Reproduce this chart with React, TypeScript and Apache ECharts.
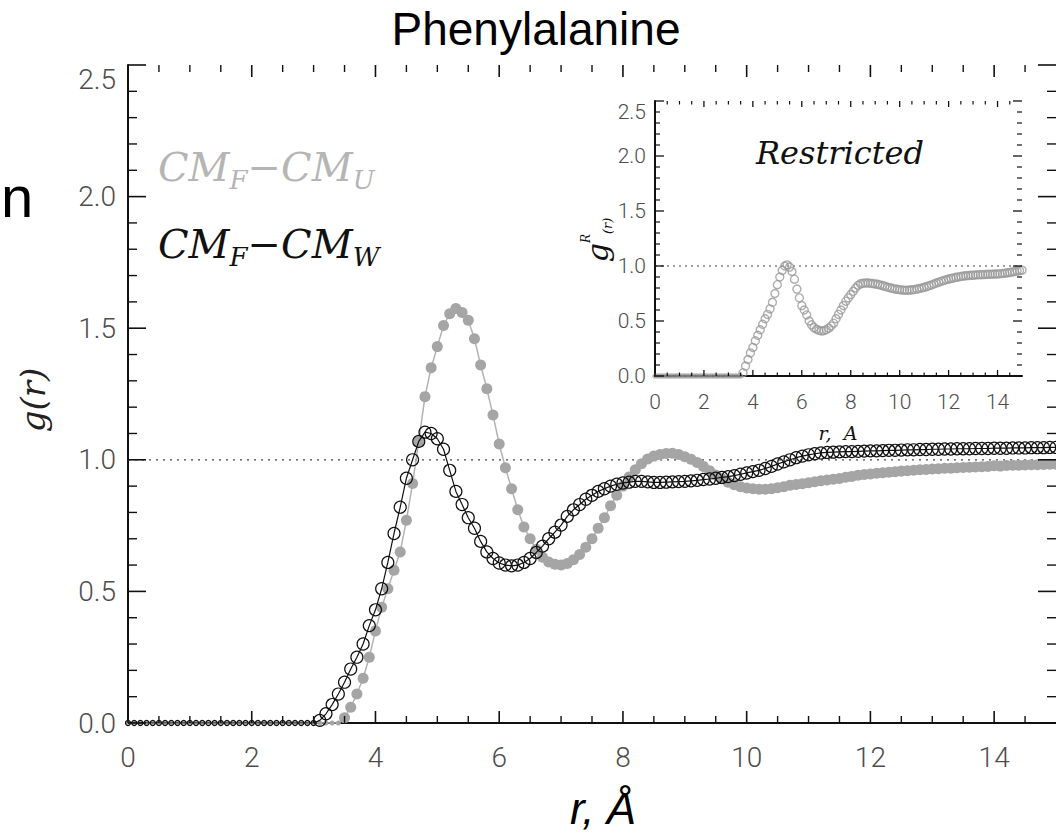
import React, { useEffect, useRef } from "react";
import * as echarts from "echarts";

// r grid: 0.0 .. 15.0 in steps of 0.1 (151 samples)
const R_START = 0;
const R_STEP = 0.1;

// g(r) for CM_F - CM_U (grey filled dots)
const gCMU: number[] = [
  0, 0, 0, 0, 0, 0, 0, 0, 0, 0,
  0, 0, 0, 0, 0, 0, 0, 0, 0, 0,
  0, 0, 0, 0, 0, 0, 0, 0, 0, 0,
  0, 0, 0, 0, 0,
  0.02, 0.06, 0.11, 0.17, 0.25, 0.35, 0.44, 0.51, 0.58, 0.65,
  0.77, 0.91, 1.07, 1.24, 1.35, 1.43, 1.51, 1.555, 1.575, 1.56,
  1.53, 1.46, 1.36, 1.27, 1.17, 1.06, 0.97, 0.89, 0.81, 0.745,
  0.70, 0.66, 0.63, 0.612, 0.603, 0.600, 0.606, 0.62, 0.64, 0.668,
  0.70, 0.74, 0.78, 0.825, 0.865, 0.90, 0.935, 0.962, 0.985, 1.003,
  1.014, 1.02, 1.024, 1.025, 1.02, 1.012, 1.002, 0.99, 0.975, 0.958,
  0.942, 0.928, 0.915, 0.905, 0.898, 0.893, 0.89, 0.888, 0.888, 0.89,
  0.894, 0.898, 0.903, 0.906, 0.909, 0.913, 0.917, 0.92, 0.923, 0.926,
  0.929, 0.934, 0.937, 0.941, 0.944, 0.946, 0.949, 0.951, 0.953, 0.955,
  0.957, 0.958, 0.96, 0.962, 0.963, 0.965, 0.966, 0.968, 0.968, 0.97,
  0.971, 0.972, 0.973, 0.974, 0.975, 0.977, 0.976, 0.978, 0.979, 0.979,
  0.98, 0.981, 0.981, 0.982, 0.983, 0.983,
];

// g(r) for CM_F - CM_W (black open circles)
const gCMW: number[] = [
  0, 0, 0, 0, 0, 0, 0, 0, 0, 0,
  0, 0, 0, 0, 0, 0, 0, 0, 0, 0,
  0, 0, 0, 0, 0, 0, 0, 0, 0, 0,
  0,
  0.01, 0.035, 0.07, 0.11, 0.155, 0.205, 0.25, 0.30, 0.37, 0.43,
  0.51, 0.61, 0.72, 0.82, 0.93, 1.0, 1.07, 1.105, 1.10, 1.08,
  1.04, 0.96, 0.88, 0.83, 0.78, 0.74, 0.69, 0.65, 0.625, 0.608,
  0.60, 0.597, 0.60, 0.61, 0.625, 0.648, 0.672, 0.70, 0.725, 0.752,
  0.785, 0.81, 0.83, 0.85, 0.865, 0.88, 0.89, 0.90, 0.907, 0.912,
  0.915, 0.918, 0.918, 0.916, 0.914, 0.914, 0.915, 0.916, 0.917, 0.918,
  0.92, 0.922, 0.925, 0.927, 0.93, 0.933, 0.936, 0.94, 0.945, 0.95,
  0.955, 0.96, 0.967, 0.975, 0.984, 0.992, 1.0, 1.008, 1.014, 1.019,
  1.023, 1.026, 1.028, 1.029, 1.03, 1.031, 1.031, 1.032, 1.033, 1.034,
  1.034, 1.035, 1.036, 1.036, 1.037, 1.038, 1.038, 1.039, 1.039, 1.04,
  1.04, 1.041, 1.041, 1.042, 1.042, 1.042, 1.043, 1.043, 1.043, 1.044,
  1.044, 1.044, 1.045, 1.045, 1.045, 1.046, 1.046, 1.046, 1.047, 1.047,
];

// inset: restricted g^R(r) (grey open circles)
const gRestricted: number[] = [
  0, 0, 0, 0, 0, 0, 0, 0, 0, 0,
  0, 0, 0, 0, 0, 0, 0, 0, 0, 0,
  0, 0, 0, 0, 0, 0, 0, 0, 0, 0,
  0, 0, 0, 0, 0, 0,
  0.03, 0.09, 0.15, 0.21, 0.26, 0.32, 0.37, 0.42, 0.47, 0.52,
  0.56, 0.61, 0.67, 0.75, 0.83, 0.90, 0.96, 1.0, 1.01, 0.99,
  0.95, 0.88, 0.79, 0.71, 0.64, 0.60, 0.555, 0.50, 0.465, 0.44,
  0.425, 0.415, 0.41, 0.412, 0.42, 0.435, 0.455, 0.48, 0.52, 0.56,
  0.60, 0.64, 0.68, 0.71, 0.74, 0.77, 0.80, 0.825, 0.838, 0.843,
  0.845, 0.845, 0.843, 0.84, 0.837, 0.833, 0.828, 0.822, 0.815, 0.808,
  0.802, 0.797, 0.792, 0.788, 0.785, 0.782, 0.78, 0.78, 0.781, 0.783,
  0.786, 0.79, 0.795, 0.80, 0.806, 0.813, 0.82, 0.828, 0.836, 0.845,
  0.853, 0.861, 0.868, 0.875, 0.881, 0.887, 0.892, 0.897, 0.901, 0.905,
  0.908, 0.911, 0.913, 0.915, 0.917, 0.919, 0.92, 0.921, 0.922, 0.923,
  0.924, 0.925, 0.926, 0.927, 0.928, 0.93, 0.932, 0.935, 0.938, 0.942,
  0.946, 0.95, 0.954, 0.958, 0.962,
];

// tick positions
const X_MAJOR_TICKS = [0, 2, 4, 6, 8, 10, 12, 14];
const X_MINOR_TICKS = [
  0.5, 1, 1.5, 2.5, 3, 3.5, 4.5, 5, 5.5, 6.5, 7, 7.5, 8.5, 9, 9.5,
  10.5, 11, 11.5, 12.5, 13, 13.5, 14.5,
];
const Y_MAJOR_TICKS = [0, 0.5, 1, 1.5, 2, 2.5];
const Y_MINOR_TICKS = [
  0.1, 0.2, 0.3, 0.4, 0.6, 0.7, 0.8, 0.9, 1.1, 1.2, 1.3, 1.4,
  1.6, 1.7, 1.8, 1.9, 2.1, 2.2, 2.3, 2.4,
];

const X_MIN = 0;
const X_MAX = 15;
const X_LABEL_STEP = 2;
const Y_MIN = 0;
const Y_MAX = 2.5;
const Y_LABEL_STEP = 0.5;
const REF_LEVEL = 1.0;

const toPairs = (vals: number[]) =>
  vals.map((v, i) => [Number((R_START + i * R_STEP).toFixed(1)), v]);

const BLACK = "#111";
const LABEL_COLOR = "#4d4d4d";
const LABEL_FONT = "Roboto";

export default function App() {
  const ref = useRef<HTMLDivElement>(null);

  useEffect(() => {
    if (!ref.current) return;
    const chart = echarts.init(ref.current, undefined, { renderer: "svg" });

    const frameLine = { color: BLACK, width: 2 };

    const xAxisFor = (gridIndex: number, position: string, label: any) => ({
      type: "value",
      gridIndex,
      position,
      min: X_MIN,
      max: X_MAX,
      interval: X_LABEL_STEP,
      axisLine: { show: true, onZero: false, lineStyle: frameLine },
      axisTick: { show: false },
      axisLabel: label || { show: false },
      splitLine: { show: false },
    });
    const yAxisFor = (gridIndex: number, position: string, label: any) => ({
      type: "value",
      gridIndex,
      position,
      min: Y_MIN,
      max: Y_MAX,
      interval: Y_LABEL_STEP,
      axisLine: { show: true, onZero: false, lineStyle: frameLine },
      axisTick: { show: false },
      axisLabel: label || { show: false },
      splitLine: { show: false },
    });

    const xLabel = (size: number, margin: number) => ({
      show: true,
      showMaxLabel: false,
      margin,
      color: LABEL_COLOR,
      fontSize: size,
      fontFamily: LABEL_FONT,
      fontWeight: 300,
    });
    const yLabel = (size: number, margin: number) => ({
      show: true,
      margin,
      color: LABEL_COLOR,
      fontSize: size,
      fontFamily: LABEL_FONT,
      fontWeight: 300,
      formatter: (v: number) => v.toFixed(1),
      verticalAlignMaxLabel: "top",
    });

    // inward ticks on all four sides, drawn through the axes' scales
    const tickSeries = (
      axisIndex: number,
      dir: "x" | "y",
      values: number[],
      len: number,
      width: number
    ) => ({
      type: "custom",
      xAxisIndex: axisIndex,
      yAxisIndex: axisIndex,
      silent: true,
      clip: false,
      z: 5,
      data: values.map((v) => (dir === "x" ? [v, Y_MIN] : [X_MIN, v])),
      renderItem: (_p: any, api: any) => {
        const style = { stroke: BLACK, lineWidth: width };
        if (dir === "x") {
          const v = api.value(0);
          const b = api.coord([v, Y_MIN]);
          const t = api.coord([v, Y_MAX]);
          return {
            type: "group",
            children: [
              { type: "line", shape: { x1: b[0], y1: b[1], x2: b[0], y2: b[1] - len }, style },
              { type: "line", shape: { x1: t[0], y1: t[1], x2: t[0], y2: t[1] + len }, style },
            ],
          };
        }
        const v = api.value(1);
        const l = api.coord([X_MIN, v]);
        const r = api.coord([X_MAX, v]);
        return {
          type: "group",
          children: [
            { type: "line", shape: { x1: l[0], y1: l[1], x2: l[0] + len, y2: l[1] }, style },
            { type: "line", shape: { x1: r[0], y1: r[1], x2: r[0] - len, y2: r[1] }, style },
          ],
        };
      },
    });

    const smallAtZero = (big: number, small: number) => (val: number[]) =>
      val[1] === 0 ? small : big;

    const option: any = {
      animation: false,
      backgroundColor: "#fff",
      grid: [
        { left: 128, top: 65, width: 931, height: 658 },
        { left: 655, top: 101, width: 367, height: 275 },
      ],
      xAxis: [
        xAxisFor(0, "bottom", xLabel(28, 20)),
        xAxisFor(1, "bottom", xLabel(21, 15)),
      ],
      yAxis: [
        yAxisFor(0, "left", yLabel(28, 12)),
        yAxisFor(1, "left", yLabel(21, 9)),
      ],
      series: [
        tickSeries(0, "x", X_MAJOR_TICKS, 12, 1.6),
        tickSeries(0, "x", X_MINOR_TICKS, 7, 1.4),
        tickSeries(0, "y", Y_MAJOR_TICKS, 18, 1.6),
        tickSeries(0, "y", Y_MINOR_TICKS, 9, 1.4),
        tickSeries(1, "x", X_MAJOR_TICKS, 6, 1.3),
        tickSeries(1, "x", X_MINOR_TICKS, 3.5, 1.2),
        tickSeries(1, "y", Y_MAJOR_TICKS, 9, 1.3),
        tickSeries(1, "y", Y_MINOR_TICKS, 5, 1.2),
        {
          type: "line",
          xAxisIndex: 0,
          yAxisIndex: 0,
          data: [
            [X_MIN, REF_LEVEL],
            [X_MAX, REF_LEVEL],
          ],
          symbol: "none",
          silent: true,
          lineStyle: { color: "#444", width: 1.3, type: [2, 5] },
          z: 1,
        },
        {
          type: "line",
          xAxisIndex: 1,
          yAxisIndex: 1,
          data: [
            [X_MIN, REF_LEVEL],
            [X_MAX, REF_LEVEL],
          ],
          symbol: "none",
          silent: true,
          lineStyle: { color: "#444", width: 1.2, type: [2, 4] },
          z: 1,
        },
        {
          name: "CMF-CMU",
          type: "line",
          xAxisIndex: 0,
          yAxisIndex: 0,
          data: toPairs(gCMU),
          symbol: "circle",
          symbolSize: smallAtZero(11, 5),
          showAllSymbol: true,
          lineStyle: { color: "#b3b3b3", width: 1.5 },
          itemStyle: { color: "#a5a5a5", borderWidth: 0 },
          z: 2,
        },
        {
          name: "CMF-CMW",
          type: "line",
          xAxisIndex: 0,
          yAxisIndex: 0,
          data: toPairs(gCMW),
          symbol: "circle",
          symbolSize: smallAtZero(12, 5),
          showAllSymbol: true,
          lineStyle: { color: BLACK, width: 1.2 },
          itemStyle: { color: "rgba(0,0,0,0)", borderColor: BLACK, borderWidth: 1.2 },
          z: 3,
        },
        {
          name: "Restricted",
          type: "scatter",
          xAxisIndex: 1,
          yAxisIndex: 1,
          data: toPairs(gRestricted),
          symbol: "circle",
          symbolSize: smallAtZero(8, 4),
          itemStyle: { color: "rgba(0,0,0,0)", borderColor: "#999", borderWidth: 1.4 },
          z: 2,
        },
      ],
      graphic: [
        {
          type: "text",
          x: 536,
          y: 29,
          style: {
            text: "Phenylalanine",
            font: '46px "Liberation Sans", Arial, sans-serif',
            fill: "#000",
            align: "center",
            verticalAlign: "middle",
          },
        },
        {
          type: "text",
          x: 1,
          y: 196,
          style: {
            text: "n",
            font: '58px "Liberation Sans", Arial, sans-serif',
            fill: "#000",
            align: "left",
            verticalAlign: "middle",
          },
        },
        {
          type: "text",
          x: 603,
          y: 808,
          style: {
            text: "r, Å",
            font: 'italic 44px "Liberation Sans", Arial, sans-serif',
            fill: "#000",
            align: "center",
            verticalAlign: "middle",
          },
        },
        {
          type: "text",
          x: 33,
          y: 400,
          rotation: Math.PI / 2,
          style: {
            text: "g(r)",
            font: 'italic 34px "DejaVu Serif", serif',
            fill: "#222",
            align: "center",
            verticalAlign: "middle",
          },
        },
        {
          type: "text",
          x: 158,
          y: 167,
          style: {
            text: "{a|CM}{s|F}{a|−CM}{s|U}",
            align: "left",
            verticalAlign: "middle",
            rich: {
              a: { fontSize: 40, fontFamily: "DejaVu Serif", fontStyle: "italic", fill: "#b5b5b5", lineHeight: 52 },
              s: { fontSize: 26, fontFamily: "DejaVu Serif", fontStyle: "italic", fill: "#b5b5b5", lineHeight: 20, verticalAlign: "bottom" },
            },
          },
        },
        {
          type: "text",
          x: 158,
          y: 244,
          style: {
            text: "{a|CM}{s|F}{a|−CM}{s|W}",
            align: "left",
            verticalAlign: "middle",
            rich: {
              a: { fontSize: 40, fontFamily: "DejaVu Serif", fontStyle: "italic", fill: "#111", lineHeight: 52 },
              s: { fontSize: 26, fontFamily: "DejaVu Serif", fontStyle: "italic", fill: "#111", lineHeight: 20, verticalAlign: "bottom" },
            },
          },
        },
        {
          type: "text",
          x: 840,
          y: 153,
          style: {
            text: "Restricted",
            font: 'italic 32px "DejaVu Serif", serif',
            fill: "#111",
            align: "center",
            verticalAlign: "middle",
          },
        },
        {
          type: "text",
          x: 838,
          y: 433,
          style: {
            text: "r,  A",
            font: 'italic 19px "DejaVu Serif", serif',
            fill: "#111",
            align: "center",
            verticalAlign: "middle",
          },
        },
        {
          type: "text",
          x: 597,
          y: 240,
          rotation: Math.PI / 2,
          style: {
            text: "{g|g}{R|R}{p|(r)}",
            align: "center",
            verticalAlign: "middle",
            rich: {
              g: { fontSize: 30, fontFamily: "DejaVu Serif", fontStyle: "italic", fill: "#111", lineHeight: 34 },
              R: { fontSize: 12, fontFamily: "DejaVu Serif", fontStyle: "italic", fill: "#111", lineHeight: 34, verticalAlign: "top" },
              p: { fontSize: 13, fontFamily: "DejaVu Serif", fontStyle: "italic", fill: "#111", lineHeight: 26, verticalAlign: "bottom" },
            },
          },
        },
      ],
    };

    chart.setOption(option);
    return () => chart.dispose();
  }, []);

  return (
    <div
      ref={ref}
      style={{ position: "absolute", left: 0, top: 0, width: 1056, height: 835, background: "#fff" }}
    />
  );
}
